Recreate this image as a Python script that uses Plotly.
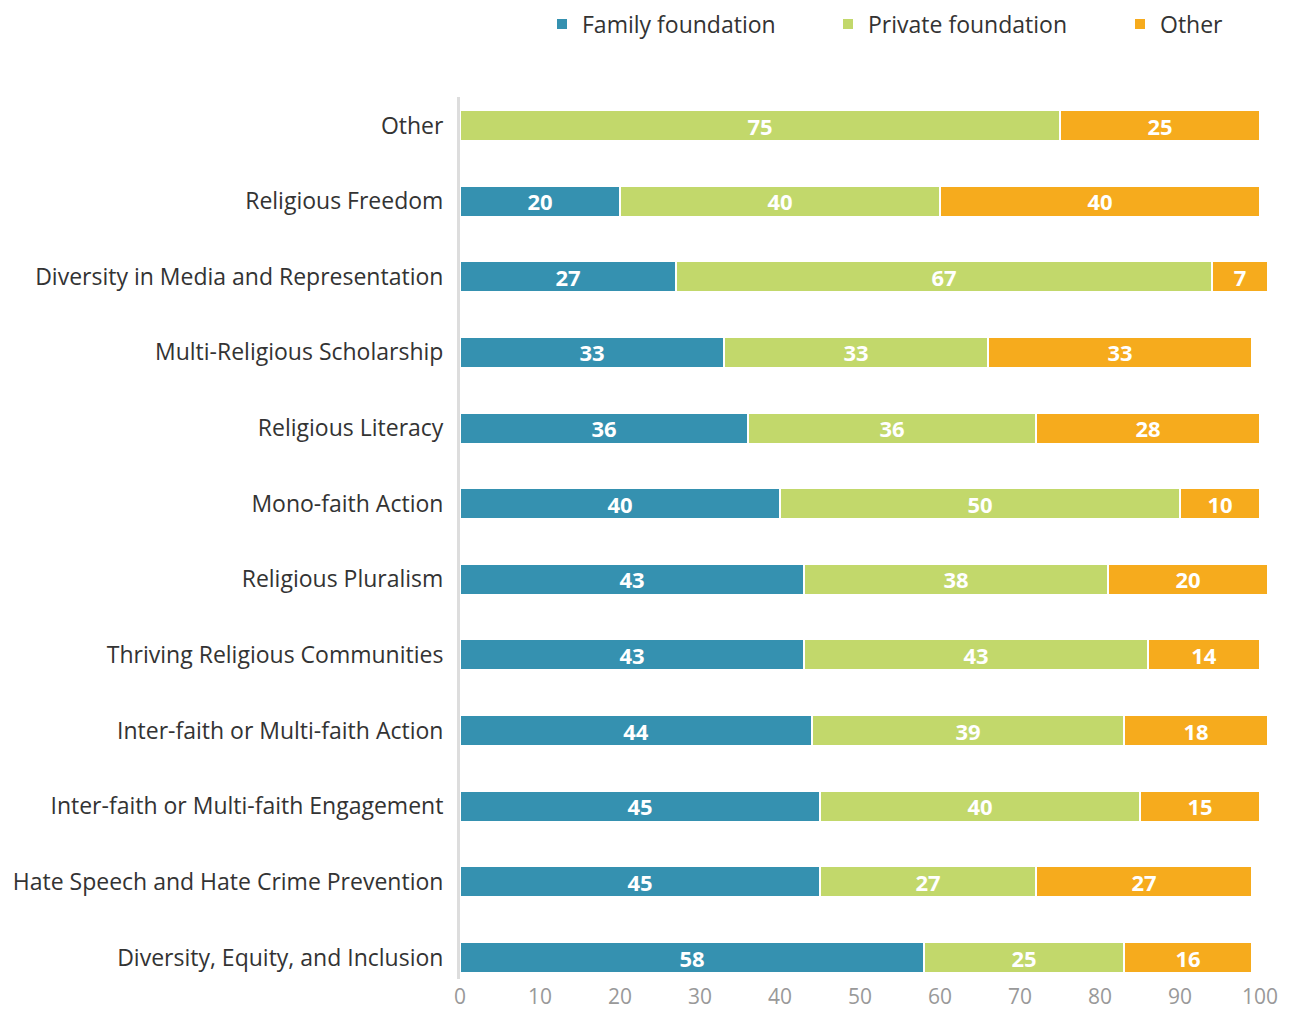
import plotly.graph_objects as go

categories = [
    "Diversity, Equity, and Inclusion",
    "Hate Speech and Hate Crime Prevention",
    "Inter-faith or Multi-faith Engagement",
    "Inter-faith or Multi-faith Action",
    "Thriving Religious Communities",
    "Religious Pluralism",
    "Mono-faith Action",
    "Religious Literacy",
    "Multi-Religious Scholarship",
    "Diversity in Media and Representation",
    "Religious Freedom",
    "Other",
]
family = [58, 45, 45, 44, 43, 43, 40, 36, 33, 27, 20, 0]
private = [25, 27, 40, 39, 43, 38, 50, 36, 33, 67, 40, 75]
other = [16, 27, 15, 18, 14, 20, 10, 28, 33, 7, 40, 25]

series = [
    ("Family foundation", family, "#3591b0", "legend"),
    ("Private foundation", private, "#c2d86b", "legend2"),
    ("Other", other, "#f6ab1d", "legend3"),
]

fig = go.Figure()
for name, vals, col, lg in series:
    fig.add_trace(go.Bar(
        y=categories, x=vals, name=name, orientation="h",
        marker=dict(color=col, line=dict(color="white", width=2)),
        text=[str(v) if v else "" for v in vals],
        textposition="inside", insidetextanchor="middle", textangle=0,
        constraintext="none",
        textfont=dict(family="Open Sans", size=22, color="white", weight="bold"),
        hoverinfo="skip", legend=lg,
    ))

W, H = 1293, 1009


def leg(xpx):
    return dict(
        orientation="h", xref="container", yref="container",
        x=xpx / W, xanchor="left", y=1 - 24 / H, yanchor="middle",
        font=dict(size=23, color="#333333"), bgcolor="rgba(0,0,0,0)",
    )


fig.update_layout(
    barmode="stack",
    bargap=0.59,
    width=W, height=H,
    margin=dict(l=460, r=21, t=97, b=30, autoexpand=False),
    paper_bgcolor="white", plot_bgcolor="white",
    font=dict(family="Open Sans", color="#333333"),
    showlegend=True,
    legend=leg(542),
    legend2=leg(828),
    legend3=leg(1120),
    xaxis=dict(
        range=[0, 101.5], tickvals=list(range(0, 101, 10)),
        showgrid=False, zeroline=False, showline=False, ticks="",
        tickfont=dict(size=21, color="#999999"),
        automargin=False, ticklabelstandoff=3,
    ),
    yaxis=dict(
        type="category", categoryorder="array", categoryarray=categories,
        range=[-0.284, 11.377],
        showgrid=False, zeroline=False, showline=True,
        linecolor="#dddddd", linewidth=3, ticks="",
        ticklabelstandoff=9, automargin=False,
        tickfont=dict(size=23, color="#333333"),
    ),
)

fig.write_html("out.html")
